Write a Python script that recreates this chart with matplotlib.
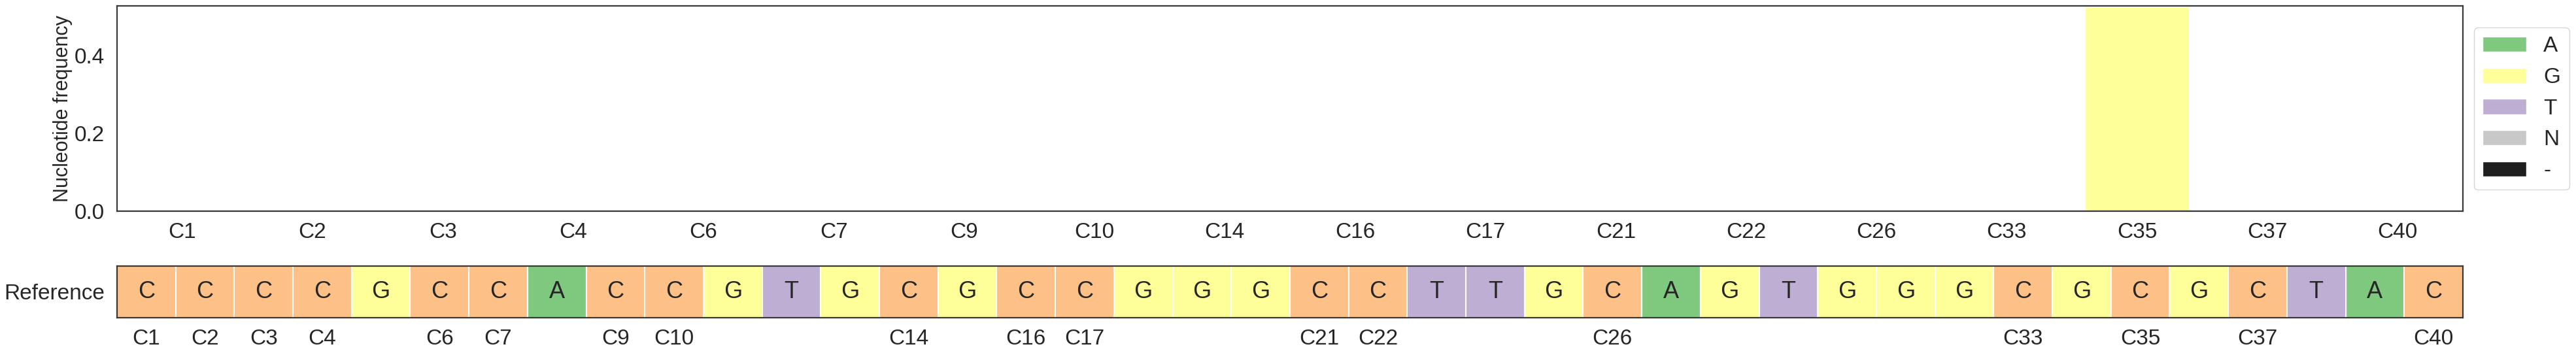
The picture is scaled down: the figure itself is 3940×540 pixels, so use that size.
import numpy as np
import matplotlib.pyplot as plt
from matplotlib.patches import Patch
import seaborn as sns

sns.set_style('white')
plt.rcParams['font.family'] = ['Liberation Sans', 'DejaVu Sans']

# reference sequence (40 positions)
reference = list("CCCCGCCACCGTGCGCCGGGCCTTGCAGTGGGCGCGCTAC")

# sites shown in the frequency panel
sites = ['C1', 'C2', 'C3', 'C4', 'C6', 'C7', 'C9', 'C10', 'C14', 'C16',
         'C17', 'C21', 'C22', 'C26', 'C33', 'C35', 'C37', 'C40']

# nucleotide frequency per site
freq_A = [0, 0, 0, 0, 0, 0, 0, 0, 0, 0, 0, 0, 0, 0, 0, 0, 0, 0]
freq_G = [0, 0, 0, 0, 0, 0, 0, 0, 0, 0, 0, 0, 0, 0, 0, 0.526, 0, 0]
freq_T = [0, 0, 0, 0, 0, 0, 0, 0, 0, 0, 0, 0, 0, 0, 0, 0, 0, 0]
freq_N = [0, 0, 0, 0, 0, 0, 0, 0, 0, 0, 0, 0, 0, 0, 0, 0, 0, 0]
freq_gap = [0, 0, 0, 0, 0, 0, 0, 0, 0, 0, 0, 0, 0, 0, 0, 0, 0, 0]

colors = {'A': '#7fc97f', 'C': '#fdc086', 'G': '#ffff99', 'T': '#beaed4',
          'N': '#c8c8c8', '-': '#1f1f1f'}
freqs = {'A': freq_A, 'G': freq_G, 'T': freq_T, 'N': freq_N, '-': freq_gap}

fs = 24
txt = '#262626'
edge = '#383838'

fig = plt.figure(figsize=(39.4, 5.4), dpi=100)
ax1 = fig.add_axes([0.04543, 0.40185, 0.91066, 0.58148])
ax2 = fig.add_axes([0.04543, 0.10056, 0.91066, 0.14574])

x = np.arange(len(sites))
bottom = np.zeros(len(sites))
for base, vals in freqs.items():
    vals = np.array(vals, dtype=float)
    ax1.bar(x, vals, bottom=bottom, width=0.8, color=colors[base],
            edgecolor='white', linewidth=1)
    bottom += vals
ax1.set_xlim(-0.5, len(sites) - 0.5)
ax1.set_ylim(0, bottom.max() * 1.004)
ax1.set_yticks([0, 0.2, 0.4])
ax1.set_xticks(x)
ax1.set_xticklabels(sites)
ax1.set_ylabel('Nucleotide frequency', fontsize=22, color=txt, labelpad=2)
ax1.tick_params(axis='x', labelsize=fs, pad=9, colors=txt)
ax1.tick_params(axis='y', labelsize=fs, pad=10, colors=txt)

handles = [Patch(facecolor=colors[b], edgecolor='white', label=b) for b in freqs]
ax1.legend(handles=handles, loc='center left', bbox_to_anchor=(1.0, 0.5),
           fontsize=fs, handlelength=2.0, labelspacing=0.5)

# reference row
for i, b in enumerate(reference):
    ax2.bar(i, 1, width=1, color=colors[b], edgecolor='white', linewidth=1.5)
    ax2.text(i, 0.5, b, ha='center', va='center', fontsize=26, color=txt)
ax2.set_xlim(-0.5, len(reference) - 0.5)
ax2.set_ylim(0, 1)
site_pos = [int(s[1:]) - 1 for s in sites]
ax2.set_xticks(site_pos)
ax2.set_xticklabels(sites)
ax2.set_yticks([0.5])
ax2.set_yticklabels(['Reference'])
ax2.tick_params(axis='x', labelsize=fs, pad=9, colors=txt)
ax2.tick_params(axis='y', labelsize=fs, pad=10, colors=txt)

for ax in (ax1, ax2):
    for sp in ax.spines.values():
        sp.set_color(edge)
        sp.set_linewidth(1.6)

fig.savefig('out.png', dpi=100)
